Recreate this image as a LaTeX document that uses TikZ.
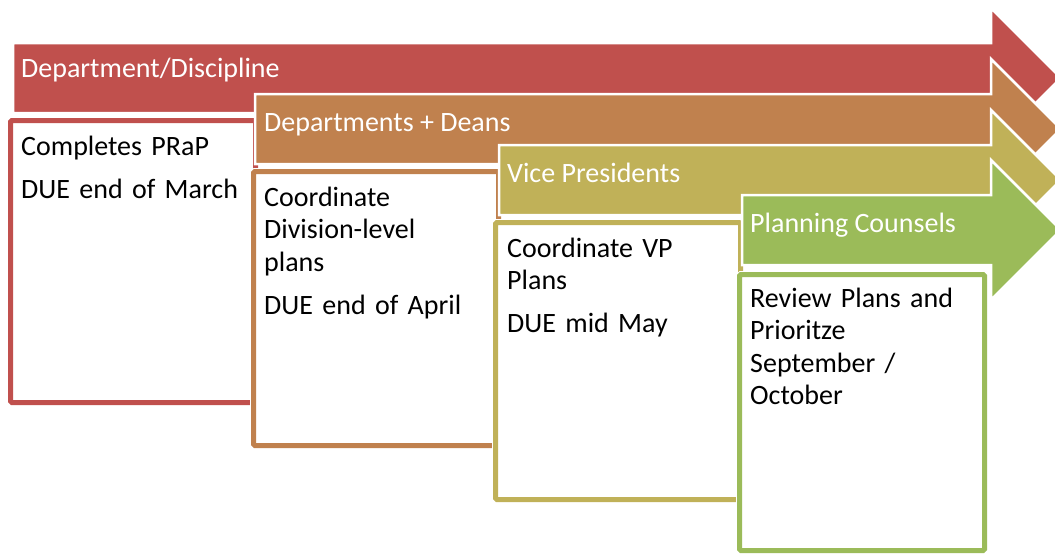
\documentclass[tikz,border=0pt]{standalone}
\usepackage{fontspec}
\setmainfont{Carlito}
\definecolor{stepred}{HTML}{C0504D}
\definecolor{steporange}{HTML}{C0814E}
\definecolor{stepolive}{HTML}{C0B158}
\definecolor{stepgreen}{HTML}{9BBB59}
\tikzset{
  arrowbody/.style={fill=#1, draw=white, line width=2.5pt, line join=miter},
  taskbox/.style={draw=#1, fill=white, line width=5pt, rounded corners=1.5pt,
    preaction={draw=white, line width=7pt}},
  arrowlabel/.style={anchor=base west, inner sep=0pt, text=white,
    font=\fontsize{28}{32}\selectfont},
  boxtext/.style={anchor=base west, inner sep=0pt, text width=230pt, align=left,
    font=\fontsize{28}{32.5}\selectfont}
}
\begin{document}
\begin{tikzpicture}[x=1pt, y=-1pt]
    \useasboundingbox (0,0) rectangle (1055,554);
    \clip (0,0) rectangle (1055,554);

    % Step 1: Department/Discipline
    \fill[arrowbody=stepred] (13,43) -- (991,43) -- (991,8) -- (1061,78)
        -- (991,148) -- (991,113) -- (13,113) -- cycle;
    \node[arrowlabel] (deptlabel) at (21,77) {Department/Discipline};
    \draw[taskbox=stepred] (10.5,120.5) rectangle (255.5,402.5);
    \node[boxtext] (depttext) at (21,155) {Completes PRaP\\[10.5pt]DUE end of March};

    % Step 2: Departments + Deans
    \fill[arrowbody=steporange] (255,94) -- (991,94) -- (991,59) -- (1061,129)
        -- (991,199) -- (991,164) -- (255,164) -- cycle;
    \node[arrowlabel] (deanlabel) at (264,131) {Departments + Deans};
    \draw[taskbox=steporange] (253.5,171.5) rectangle (498.5,445.5);
    \node[boxtext] (deantext) at (264,206) {Coordinate\\Division-level\\plans\\[10.5pt]DUE end of April};

    % Step 3: Vice Presidents
    \fill[arrowbody=stepolive] (499,145) -- (991,145) -- (991,110) -- (1061,180)
        -- (991,250) -- (991,215) -- (499,215) -- cycle;
    \node[arrowlabel] (vplabel) at (507,182) {Vice Presidents};
    \draw[taskbox=stepolive] (495.5,222.5) rectangle (740.5,499.5);
    \node[boxtext] (vptext) at (507,257) {Coordinate VP\\Plans\\[10.5pt]DUE mid May};

    % Step 4: Planning Counsels
    \fill[arrowbody=stepgreen] (742,195) -- (991,195) -- (991,160) -- (1061,230)
        -- (991,300) -- (991,265) -- (742,265) -- cycle;
    \node[arrowlabel] (pclabel) at (750,232) {Planning Counsels};
    \draw[taskbox=stepgreen] (739.5,274.5) rectangle (984.5,550.5);
    \node[boxtext] (pctext) at (750,307) {Review Plans and\\Prioritze\\September /\\October};
\end{tikzpicture}
\end{document}
